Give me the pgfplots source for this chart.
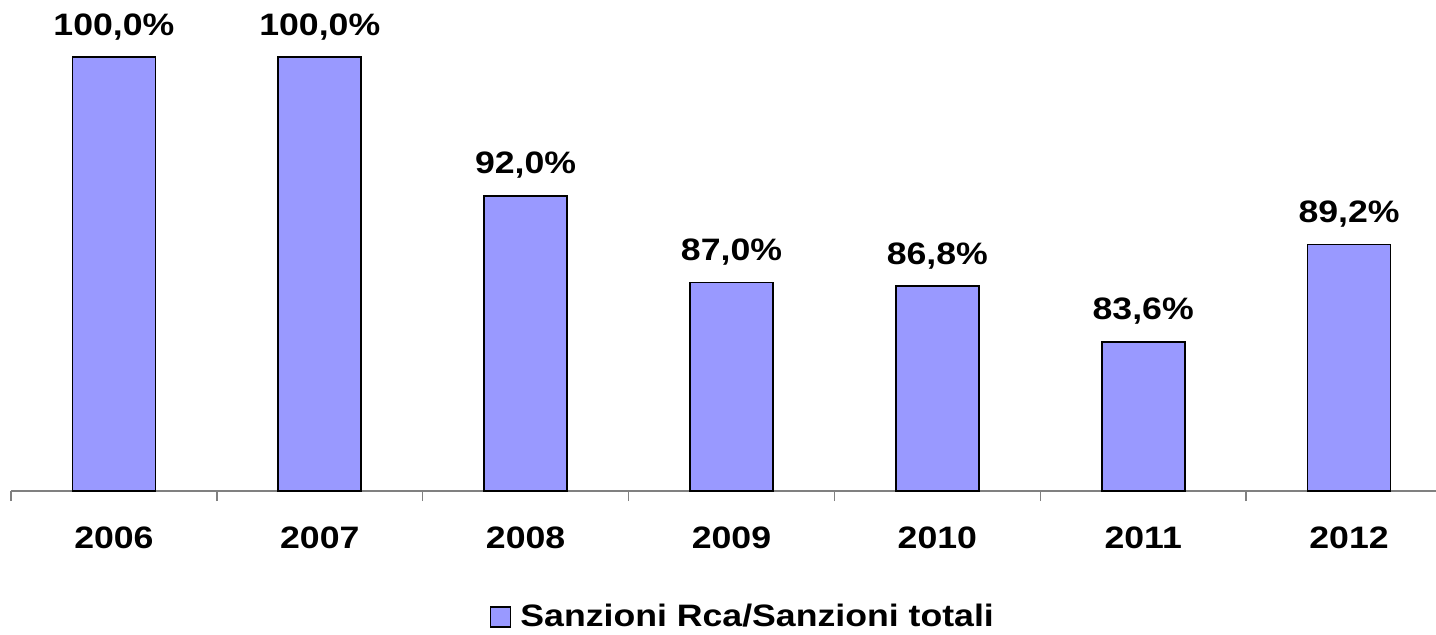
\documentclass[border=0pt]{standalone}
\usepackage{fontspec}
\setmainfont{Liberation Sans}[FakeStretch=1.15]
\usepackage{pgfplots}
\pgfplotsset{compat=1.18}
\definecolor{barfill}{HTML}{9999FF}
\definecolor{axisgray}{HTML}{808080}
\newcommand{\chartfont}{\fontsize{15.5}{17}\selectfont\bfseries}
\begin{document}
\begin{tikzpicture}
\begin{axis}[
  at={(5.5pt,71.5pt)}, anchor=south west,
  scale only axis,
  width=720.5pt, height=303.8pt,
  xmin=-0.5, xmax=6.5,
  ymin=75, ymax=110,
  ybar, bar width=41.5pt,
  axis x line=bottom, axis y line=none,
  x axis line style={-, axisgray, line width=0.75pt},
  xtick={0,...,6},
  xticklabels={2006,2007,2008,2009,2010,2011,2012},
  minor xtick={-0.5,0.5,...,6.5},
  major tick length=0pt, minor tick length=5pt,
  tick align=outside,
  minor tick style={axisgray, line width=0.75pt},
  xticklabel style={font=\chartfont, anchor=base, yshift=-28.5pt},
  nodes near coords={\pgfmathprintnumber[assume math mode=true,fixed,fixed zerofill,precision=1,use comma]{\pgfplotspointmeta}\%},
  every node near coord/.append style={font=\chartfont, anchor=base, yshift=11pt, black},
  legend style={at={(0.5087,-0.2074)}, anchor=center, draw=none, fill=none,
    font=\chartfont, column sep=2.5pt},
  legend image code/.code={\draw[#1, line width=0.6pt] (0pt,-5pt) rectangle (10pt,5pt);},
  clip mode=individual,
]
\addplot+[fill=barfill, draw=black, line width=0.8pt]
  coordinates {(0,100) (1,100) (2,92) (3,87) (4,86.8) (5,83.6) (6,89.2)};
\addlegendentry{Sanzioni Rca/Sanzioni totali}
\end{axis}
\pgfresetboundingbox
\useasboundingbox (0,0) rectangle (718pt,317pt);
\end{tikzpicture}
\end{document}
